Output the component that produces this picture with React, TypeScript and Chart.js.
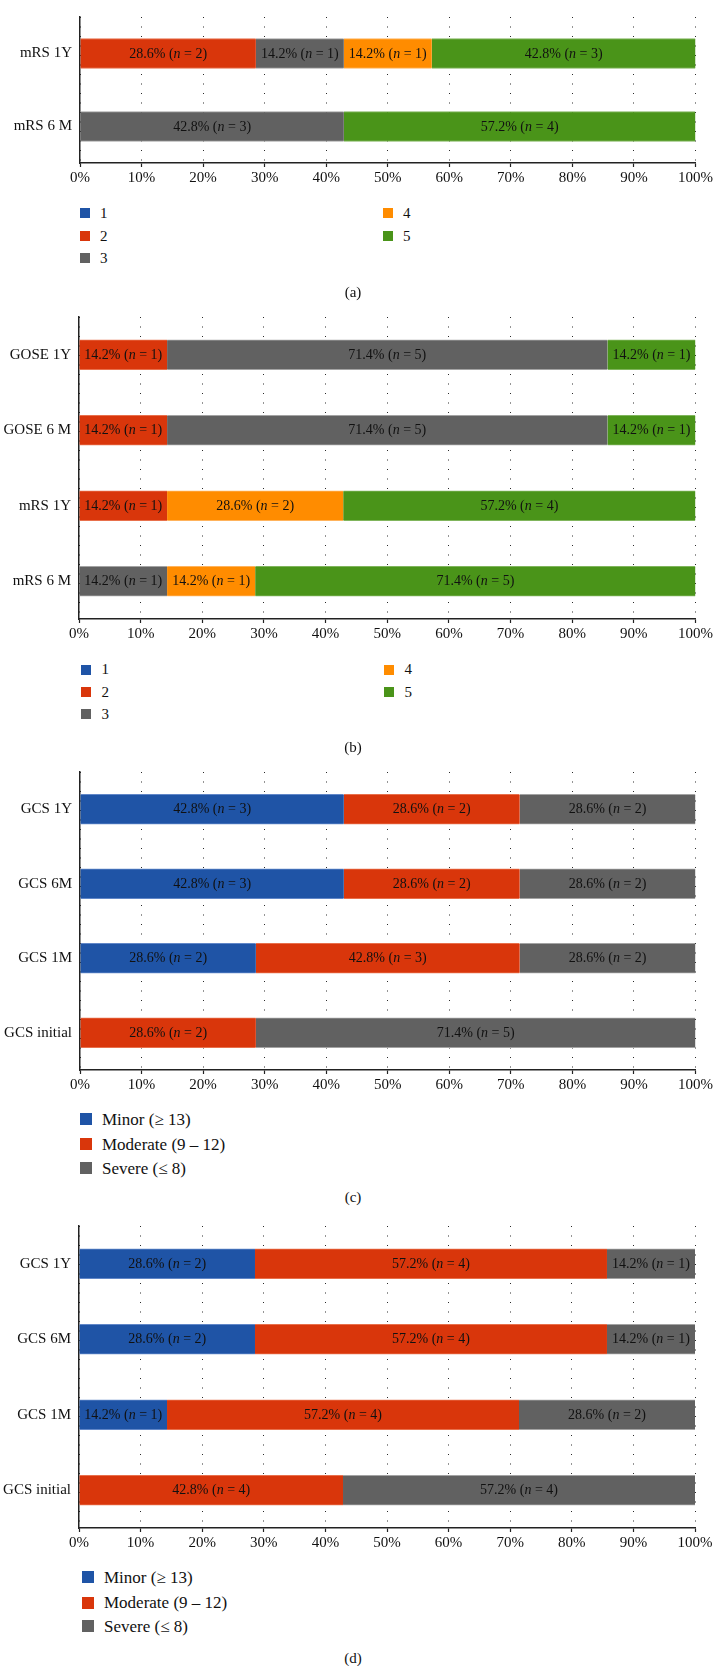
import React, { useEffect, useRef } from "react";
import { Chart, registerables } from "chart.js";

Chart.register(...registerables);

const FONT = "'Liberation Serif', 'Times New Roman', serif";

const BLUE = "#1f54a6";
const RED = "#d9360b";
const GRAY = "#616161";
const ORANGE = "#ff8c00";
const GREEN = "#4a9419";
const EDGE: Record<string, string> = {
  [BLUE]: "#6187c8",
  [RED]: "#e8704c",
  [GRAY]: "#a3a3a3",
  [ORANGE]: "#ffb35c",
  [GREEN]: "#80b55c",
};

// ---------- shared ----------
const xTicks = [0, 10, 20, 30, 40, 50, 60, 70, 80, 90, 100];
const mrsSeries = ["1", "2", "3", "4", "5"];
const mrsColors = [BLUE, RED, GRAY, ORANGE, GREEN];
const gcsSeries = ["Minor (≥ 13)", "Moderate (9 – 12)", "Severe (≤ 8)"];
const gcsColors = [BLUE, RED, GRAY];

// ---------- panel (a) ----------
const aCategories = ["mRS 1Y", "mRS 6 M"];
const aS1 = [0, 0];
const aS2 = [28.57, 0];
const aS3 = [14.29, 42.86];
const aS4 = [14.29, 0];
const aS5 = [42.86, 57.14];
const aL1 = ["", ""];
const aL2 = ["28.6% (n = 2)", ""];
const aL3 = ["14.2% (n = 1)", "42.8% (n = 3)"];
const aL4 = ["14.2% (n = 1)", ""];
const aL5 = ["42.8% (n = 3)", "57.2% (n = 4)"];

// ---------- panel (b) ----------
const bCategories = ["GOSE 1Y", "GOSE 6 M", "mRS 1Y", "mRS 6 M"];
const bS1 = [0, 0, 0, 0];
const bS2 = [14.29, 14.29, 14.29, 0];
const bS3 = [71.43, 71.43, 0, 14.29];
const bS4 = [0, 0, 28.57, 14.29];
const bS5 = [14.28, 14.28, 57.14, 71.42];
const bL1 = ["", "", "", ""];
const bL2 = ["14.2% (n = 1)", "14.2% (n = 1)", "14.2% (n = 1)", ""];
const bL3 = ["71.4% (n = 5)", "71.4% (n = 5)", "", "14.2% (n = 1)"];
const bL4 = ["", "", "28.6% (n = 2)", "14.2% (n = 1)"];
const bL5 = ["14.2% (n = 1)", "14.2% (n = 1)", "57.2% (n = 4)", "71.4% (n = 5)"];

// ---------- panel (c) ----------
const cCategories = ["GCS 1Y", "GCS 6M", "GCS 1M", "GCS initial"];
const cMinor = [42.86, 42.86, 28.57, 0];
const cModerate = [28.57, 28.57, 42.86, 28.57];
const cSevere = [28.57, 28.57, 28.57, 71.43];
const cLMinor = ["42.8% (n = 3)", "42.8% (n = 3)", "28.6% (n = 2)", ""];
const cLModerate = ["28.6% (n = 2)", "28.6% (n = 2)", "42.8% (n = 3)", "28.6% (n = 2)"];
const cLSevere = ["28.6% (n = 2)", "28.6% (n = 2)", "28.6% (n = 2)", "71.4% (n = 5)"];

// ---------- panel (d) ----------
const dCategories = ["GCS 1Y", "GCS 6M", "GCS 1M", "GCS initial"];
const dMinor = [28.57, 28.57, 14.29, 0];
const dModerate = [57.14, 57.14, 57.14, 42.86];
const dSevere = [14.29, 14.29, 28.57, 57.14];
const dLMinor = ["28.6% (n = 2)", "28.6% (n = 2)", "14.2% (n = 1)", ""];
const dLModerate = ["57.2% (n = 4)", "57.2% (n = 4)", "57.2% (n = 4)", "42.8% (n = 4)"];
const dLSevere = ["14.2% (n = 1)", "14.2% (n = 1)", "28.6% (n = 2)", "57.2% (n = 4)"];

type Panel = {
  top: number;
  padTop: number;
  plotH: number;
  yWidth: number;
  padRight: number;
  categories: string[];
  names: string[];
  colors: string[];
  values: number[][];
  labels: string[][];
};

const X_AXIS_H = 30;

const panels: Panel[] = [
  {
    top: 0, padTop: 9, plotH: 154, yWidth: 80, padRight: 18,
    categories: aCategories, names: mrsSeries, colors: mrsColors,
    values: [aS1, aS2, aS3, aS4, aS5], labels: [aL1, aL2, aL3, aL4, aL5],
  },
  {
    top: 300, padTop: 11, plotH: 308, yWidth: 79, padRight: 19,
    categories: bCategories, names: mrsSeries, colors: mrsColors,
    values: [bS1, bS2, bS3, bS4, bS5], labels: [bL1, bL2, bL3, bL4, bL5],
  },
  {
    top: 755, padTop: 11, plotH: 304, yWidth: 80, padRight: 19,
    categories: cCategories, names: gcsSeries, colors: gcsColors,
    values: [cMinor, cModerate, cSevere], labels: [cLMinor, cLModerate, cLSevere],
  },
  {
    top: 1209, padTop: 11, plotH: 308, yWidth: 79, padRight: 20,
    categories: dCategories, names: gcsSeries, colors: gcsColors,
    values: [dMinor, dModerate, dSevere], labels: [dLMinor, dLModerate, dLSevere],
  },
];

function makeLabelPlugin(labels: string[][]) {
  return {
    id: "segLabels",
    afterDatasetsDraw(chart: any) {
      const ctx: CanvasRenderingContext2D = chart.ctx;
      ctx.save();
      ctx.fillStyle = "#111";
      ctx.textBaseline = "middle";
      ctx.textAlign = "left";
      const normal = `14px ${FONT}`;
      const italic = `italic 14px ${FONT}`;
      labels.forEach((arr, di) => {
        const meta = chart.getDatasetMeta(di);
        meta.data.forEach((el: any, i: number) => {
          const txt = arr[i];
          if (!txt) return;
          const { x, base, y } = el.getProps(["x", "base", "y"], true);
          const cx = (x + base) / 2;
          const m = txt.match(/^(.*\()n(.*)$/);
          const pre = m ? m[1] : txt;
          const post = m ? m[2] : "";
          ctx.font = normal;
          const wPre = ctx.measureText(pre).width;
          const wPost = ctx.measureText(post).width;
          ctx.font = italic;
          const wN = m ? ctx.measureText("n").width : 0;
          let sx = cx - (wPre + wN + wPost) / 2;
          const ty = y + 0.5;
          ctx.font = normal;
          ctx.fillText(pre, sx, ty);
          sx += wPre;
          if (m) {
            ctx.font = italic;
            ctx.fillText("n", sx, ty);
            sx += wN;
            ctx.font = normal;
            ctx.fillText(post, sx, ty);
          }
        });
      });
      ctx.restore();
    },
  };
}

function BarPanel({ p }: { p: Panel }) {
  const ref = useRef<HTMLCanvasElement | null>(null);
  const height = p.padTop + p.plotH + X_AXIS_H;
  useEffect(() => {
    if (!ref.current) return;
    const chart = new Chart(ref.current, {
      type: "bar",
      data: {
        labels: p.categories,
        datasets: p.names.map((name, i) => ({
          label: name,
          data: p.values[i],
          backgroundColor: p.colors[i],
          borderColor: EDGE[p.colors[i]],
          borderWidth: { top: 1, bottom: 1, left: 0, right: 0 },
          borderSkipped: false,
          barThickness: 30,
        })),
      },
      options: {
        indexAxis: "y",
        responsive: false,
        animation: false,
        devicePixelRatio: 1,
        layout: { padding: { top: p.padTop, right: p.padRight, left: 0, bottom: 0 } },
        plugins: {
          legend: { display: false },
          tooltip: { enabled: false },
          title: { display: false },
        },
        scales: {
          x: {
            type: "linear",
            stacked: true,
            min: 0,
            max: 100,
            afterBuildTicks: (scale: any) => {
              scale.ticks = xTicks.map((v) => ({ value: v }));
            },
            ticks: {
              callback: (v: any) => `${v}%`,
              font: { family: FONT, size: 15 },
              color: "#111",
              padding: 2,
              maxRotation: 0,
              autoSkip: false,
            },
            grid: {
              color: "#2a2a2a",
              lineWidth: 1,
              drawTicks: true,
              tickLength: 4,
              tickColor: "#222",
              tickWidth: 1.2,
              tickBorderDash: [],
            },
            border: { display: true, color: "#222", width: 1.5, dash: [1, 8.5] },
            afterFit: (s: any) => {
              s.height = X_AXIS_H;
            },
          },
          y: {
            stacked: true,
            ticks: { font: { family: FONT, size: 15 }, color: "#111", padding: 8 },
            grid: { display: false, drawTicks: false },
            border: { display: true, color: "#222", width: 1.5 },
            afterFit: (s: any) => {
              s.width = p.yWidth;
            },
          },
        },
      } as any,
      plugins: [makeLabelPlugin(p.labels)],
    });
    return () => chart.destroy();
  }, [p]);
  return (
    <canvas
      ref={ref}
      width={715}
      height={height}
      style={{ position: "absolute", left: 0, top: p.top, width: 715, height }}
    />
  );
}

type LegendSpec = {
  names: string[];
  colors: string[];
  rows: number[]; // row centres
  cols: number[]; // square left per column
  perCol: number;
  sq: number;
  gap: number;
  font: number;
};

const legends: LegendSpec[] = [
  { names: mrsSeries, colors: mrsColors, rows: [213, 236, 258], cols: [80, 383], perCol: 3, sq: 10, gap: 10, font: 15 },
  { names: mrsSeries, colors: mrsColors, rows: [669.5, 692, 714], cols: [81, 384], perCol: 3, sq: 10, gap: 10.5, font: 15 },
  { names: gcsSeries, colors: gcsColors, rows: [1119, 1144, 1168], cols: [80], perCol: 3, sq: 12, gap: 10, font: 17 },
  { names: gcsSeries, colors: gcsColors, rows: [1577, 1602.5, 1626], cols: [82], perCol: 3, sq: 12, gap: 10, font: 17 },
];

const captions = [
  { text: "(a)", y: 292 },
  { text: "(b)", y: 747 },
  { text: "(c)", y: 1197 },
  { text: "(d)", y: 1658 },
];

function Legend({ l }: { l: LegendSpec }) {
  return (
    <>
      {l.names.map((name, i) => {
        const col = Math.floor(i / l.perCol);
        const row = i % l.perCol;
        const cy = l.rows[row];
        const left = l.cols[col];
        return (
          <React.Fragment key={name}>
            <div
              style={{
                position: "absolute",
                left,
                top: cy - l.sq / 2,
                width: l.sq,
                height: l.sq,
                background: l.colors[i],
              }}
            />
            <div
              style={{
                position: "absolute",
                left: left + l.sq + l.gap,
                top: cy - l.font / 2,
                height: l.font,
                lineHeight: `${l.font}px`,
                fontSize: l.font,
                whiteSpace: "nowrap",
              }}
            >
              {name}
            </div>
          </React.Fragment>
        );
      })}
    </>
  );
}

export default function App() {
  return (
    <div
      style={{
        position: "absolute",
        left: 0,
        top: 0,
        width: 715,
        height: 1666,
        background: "#fff",
        overflow: "hidden",
        fontFamily: FONT,
        color: "#111",
      }}
    >
      {panels.map((p, i) => (
        <BarPanel key={i} p={p} />
      ))}
      {legends.map((l, i) => (
        <Legend key={i} l={l} />
      ))}
      {captions.map((c) => (
        <div
          key={c.text}
          style={{
            position: "absolute",
            left: 303,
            width: 100,
            textAlign: "center",
            top: c.y - 7.5,
            height: 15,
            lineHeight: "15px",
            fontSize: 15,
          }}
        >
          {c.text}
        </div>
      ))}
    </div>
  );
}
